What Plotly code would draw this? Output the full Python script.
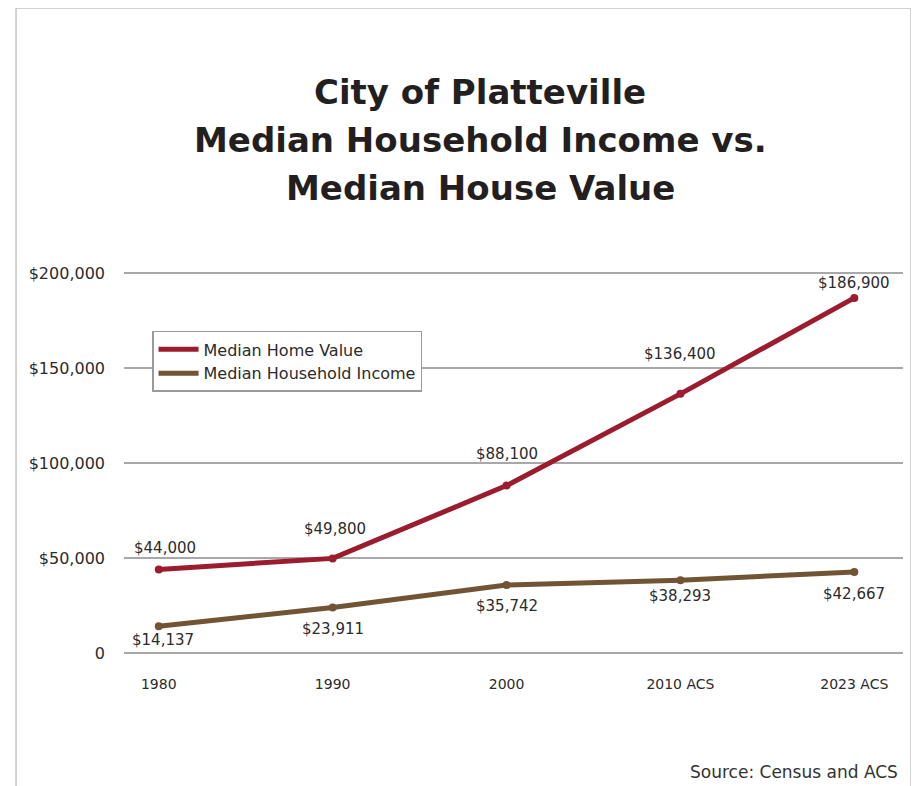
import plotly.graph_objects as go

categories = ["1980", "1990", "2000", "2010 ACS", "2023 ACS"]
home_value = [44000, 49800, 88100, 136400, 186900]
household_income = [14137, 23911, 35742, 38293, 42667]
y_ticks = [0, 50000, 100000, 150000, 200000]
y_tick_labels = ["0", "$50,000", "$100,000", "$150,000", "$200,000"]
title_lines = ["City of Platteville", "Median Household Income vs.", "Median House Value"]

RED = "#9c1c2f"
BROWN = "#715433"
FONT = "DejaVu Sans"
TXT = "#2b2b2b"

fig = go.Figure()
fig.add_trace(go.Scatter(x=categories, y=home_value, name="Median Home Value",
                         mode="lines+markers", line=dict(color=RED, width=5),
                         marker=dict(size=8, color=RED), showlegend=False))
fig.add_trace(go.Scatter(x=categories, y=household_income, name="Median Household Income",
                         mode="lines+markers", line=dict(color=BROWN, width=5),
                         marker=dict(size=8, color=BROWN), showlegend=False))
# legend entries (line only)
fig.add_trace(go.Scatter(x=[None], y=[None], name="Median Home Value", mode="lines",
                         line=dict(color=RED, width=5)))
fig.add_trace(go.Scatter(x=[None], y=[None], name="Median Household Income", mode="lines",
                         line=dict(color=BROWN, width=5)))

red_shift = [21, 29, 32, 40, 15]
brown_shift = [-14, -21, -21, -16, -22]
red_xshift = [6, 2, 0, 0, 0]
brown_xshift = [4, 0, 0, 0, 0]
for i, c in enumerate(categories):
    fig.add_annotation(x=i, y=home_value[i], text=f"${home_value[i]:,}", showarrow=False,
                       yshift=red_shift[i], xshift=red_xshift[i],
                       font=dict(family=FONT, size=15, color=TXT))
    fig.add_annotation(x=i, y=household_income[i], text=f"${household_income[i]:,}", showarrow=False,
                       yshift=brown_shift[i], xshift=brown_xshift[i],
                       font=dict(family=FONT, size=15, color=TXT))

title_y = [1.393, 1.277, 1.161]
for t, yy in zip(title_lines, title_y):
    fig.add_annotation(xref="paper", yref="paper", x=0.457, y=yy, xanchor="center", yanchor="middle",
                       text=f"<b>{t}</b>", showarrow=False,
                       font=dict(family=FONT, size=34, color="#231f20"))

fig.add_annotation(xref="paper", yref="paper", x=0.996, y=-0.246, xanchor="right", yanchor="middle",
                   text="Source: Census and ACS", showarrow=False,
                   font=dict(family=FONT, size=17, color="#333333"))

# frame
fig.add_shape(type="rect", xref="paper", yref="paper", x0=-0.1386, x1=1.0103, y0=-0.4, y1=1.595,
              line=dict(color="#c4c4c4", width=1.5), layer="below")

fig.update_layout(
    width=911, height=778,
    margin=dict(l=116, r=16, t=247, b=116, autoexpand=False),
    paper_bgcolor="white", plot_bgcolor="white",
    xaxis=dict(type="category", range=[-0.2, 4.28], showgrid=False, zeroline=False, showline=False,
               ticks="", tickfont=dict(family=FONT, size=14, color=TXT), ticklabelstandoff=4,
               automargin=False),
    yaxis=dict(range=[-8947, 209474], tickvals=y_ticks, ticktext=y_tick_labels,
               showgrid=True, gridcolor="#a8a8a8", gridwidth=2, zeroline=False, showline=False,
               tickfont=dict(family=FONT, size=16, color=TXT), ticklabelstandoff=18,
               automargin=False),
    legend=dict(x=0.036, y=0.817, xanchor="left", yanchor="top", bgcolor="white",
                bordercolor="#9a9a9a", borderwidth=1.5, itemwidth=40,
                font=dict(family=FONT, size=16, color=TXT), tracegroupgap=0),
    showlegend=True,
)

fig.write_html("out.html")
